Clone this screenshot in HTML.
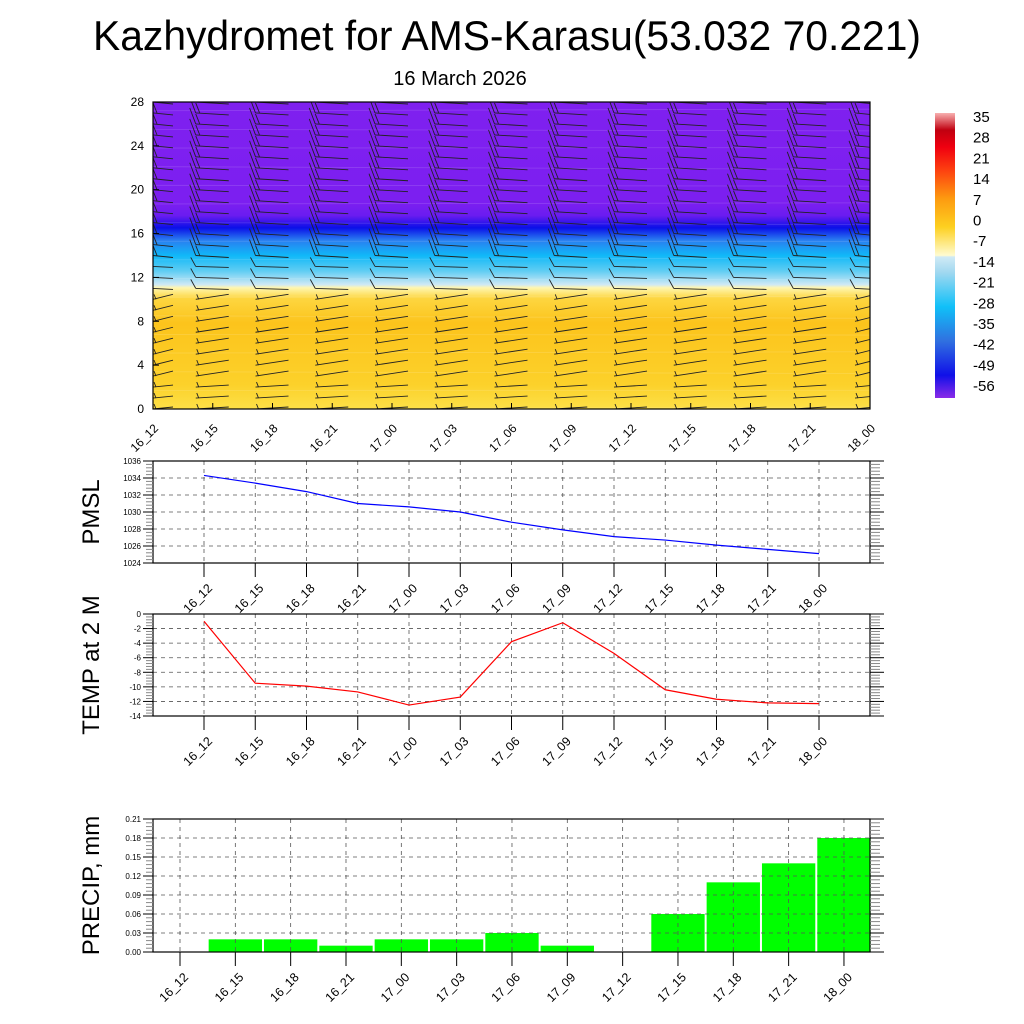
<!DOCTYPE html>
<html><head><meta charset="utf-8"><style>
body{margin:0;background:#fff}
svg{display:block;font-family:"Liberation Sans",sans-serif}
</style></head><body>
<svg id="chart" width="1024" height="1024" viewBox="0 0 1024 1024" xmlns="http://www.w3.org/2000/svg">
<defs>
<clipPath id="topclip"><rect x="153" y="102" width="717" height="307"/></clipPath>
<linearGradient id="tgrad" x1="0" y1="1" x2="0" y2="0">
<stop offset="0" stop-color="#fde047"/>
<stop offset="0.08" stop-color="#fcd12a"/>
<stop offset="0.28" stop-color="#fcc41c"/>
<stop offset="0.36" stop-color="#fdd640"/>
<stop offset="0.395" stop-color="#fff6b0"/>
<stop offset="0.405" stop-color="#cfe9f5"/>
<stop offset="0.45" stop-color="#5fcdf3"/>
<stop offset="0.50" stop-color="#10b8f8"/>
<stop offset="0.55" stop-color="#2a7ef0"/>
<stop offset="0.59" stop-color="#0a10e8"/>
<stop offset="0.63" stop-color="#6a1cf0"/>
<stop offset="0.67" stop-color="#7c1ff0"/>
<stop offset="1" stop-color="#7f20ef"/>
</linearGradient>
<linearGradient id="cgrad" x1="0" y1="1" x2="0" y2="0">
<stop offset="0" stop-color="#8a2be8"/>
<stop offset="0.08" stop-color="#1010e8"/>
<stop offset="0.2" stop-color="#3070e0"/>
<stop offset="0.32" stop-color="#10c0f8"/>
<stop offset="0.44" stop-color="#a0d8f0"/>
<stop offset="0.495" stop-color="#d0eaf5"/>
<stop offset="0.5" stop-color="#fffbd0"/>
<stop offset="0.6" stop-color="#fdd020"/>
<stop offset="0.7" stop-color="#fd9a10"/>
<stop offset="0.8" stop-color="#fd4010"/>
<stop offset="0.88" stop-color="#f00010"/>
<stop offset="0.94" stop-color="#c00010"/>
<stop offset="1" stop-color="#f8b0b0"/>
</linearGradient>
</defs>
<text x="507" y="50" font-size="42" text-anchor="middle" textLength="828" lengthAdjust="spacingAndGlyphs">Kazhydromet for AMS-Karasu(53.032 70.221)</text>
<text x="460" y="85" font-size="20" text-anchor="middle">16 March 2026</text>
<g id="top"></g>
<g id="cbar"></g>
<g id="pmsl"></g>
<g id="temp"></g>
<g id="prec"></g>
</svg>
<script>
const categories=["16_12","16_15","16_18","16_21","17_00","17_03","17_06","17_09","17_12","17_15","17_18","17_21","18_00"];
const pmslValues=[1034.3,1033.4,1032.4,1031.0,1030.6,1030.0,1028.8,1027.9,1027.1,1026.7,1026.1,1025.6,1025.1];
const tempValues=[-1.0,-9.5,-9.9,-10.7,-12.5,-11.4,-3.8,-1.2,-5.4,-10.4,-11.7,-12.2,-12.3];
const precipValues=[0,0.02,0.02,0.01,0.02,0.02,0.03,0.01,0,0.06,0.11,0.14,0.18];
const topTicks=[0,4,8,12,16,20,24,28];
const pmslTicks=[1024,1026,1028,1030,1032,1034,1036];
const tempTicks=[0,-2,-4,-6,-8,-10,-12,-14];
const precipTicks=[0,0.03,0.06,0.09,0.12,0.15,0.18,0.21];
const cbarLabels=["35","28","21","14","7","0","-7","-14","-21","-28","-35","-42","-49","-56"];

const NS="http://www.w3.org/2000/svg";
function mk(parent,tag,attrs,text){const e=document.createElementNS(NS,tag);for(const k in attrs)e.setAttribute(k,attrs[k]);if(text!==undefined)e.textContent=text;parent.appendChild(e);return e;}
function lin(d0,d1,r0,r1){return v=>r0+(v-d0)/(d1-d0)*(r1-r0);}

// ---------- Top cross-section ----------
(function(){
const g=document.getElementById('top');
const L=153,R=870,T=102,B=409;
const x=lin(0,12,L,R), y=lin(0,28,B,T);
let r=mk(g,'rect',{x:L,y:T,width:R-L,height:B-T,fill:'url(#tgrad)'});


const cg=mk(g,'g',{"clip-path":"url(#topclip)"});
for(let lv=0;lv<=28;lv+=1.7){const yy=y(lv);mk(cg,'line',{x1:L,x2:R,y1:yy,y2:yy+((lv*7)%5-2),stroke:'#fff',"stroke-opacity":0.15,"stroke-width":0.8});}
for(let i=0;i<categories.length;i++){
  const cx=x(i);
  for(let lv=0;lv<=28;lv++){
    const yy=y(lv);
    const b=mk(cg,'g',{stroke:'#222',"stroke-width":0.9,fill:'none'});
    
    
    let x0=cx-17,x1=cx+16;
    if(i===0){x0=L;x1=L+20;}
    if(i===12){x0=R-15;x1=R+5;}
    if(lv<=10){
      const dy = lv<=2?-2:-5;
      mk(b,'line',{x1:x0,y1:yy,x2:x1,y2:yy+dy});
      mk(b,'line',{x1:x0+3,y1:yy,x2:x0+1,y2:yy-5});
    }else if(lv<=13){
      mk(b,'line',{x1:x0,y1:yy,x2:x1,y2:yy+1});
      mk(b,'line',{x1:x0,y1:yy,x2:x0-5,y2:yy-9});
    }else{
      mk(b,'line',{x1:x0,y1:yy,x2:x1,y2:yy+2});
      mk(b,'line',{x1:x0,y1:yy,x2:x0-6,y2:yy-16});
      mk(b,'line',{x1:x0+4,y1:yy,x2:x0,y2:yy-10});
    }
  }
}
mk(g,'rect',{x:L,y:T,width:R-L,height:B-T,fill:'none',stroke:'#000',"stroke-width":1.2});
topTicks.forEach(v=>{const yy=y(v);
  mk(g,'line',{x1:L,x2:L+6,y1:yy,y2:yy,stroke:'#000'});
  const t=mk(g,'text',{x:L-9,y:yy+4,"font-size":12,"text-anchor":"end"},String(v));
  
  
});
categories.forEach((c,i)=>{const xx=x(i);
  mk(g,'line',{x1:xx,x2:xx,y1:B,y2:B-6,stroke:'#000'});
  const t=mk(g,'text',{x:xx+6,y:B+20,"font-size":12,"text-anchor":"end",transform:`rotate(-45 ${xx+6} ${B+20})`},c);
  
  
});
})();

// ---------- Colorbar ----------
(function(){
const g=document.getElementById('cbar');
const r=mk(g,'rect',{x:935,y:113,width:20,height:285,fill:'url(#cgrad)'});


cbarLabels.forEach((s,i)=>{
  const t=mk(g,'text',{x:973,y:122+i*20.7,"font-size":15},s);
  
  
});
})();

// ---------- line/bar panels ----------
function panel(id,T,B,ticks,dmin,dmax,fmt,title,fs,x0,dx,yfs){
  const g=document.getElementById(id);
  const L=153,R=870;
  const y=lin(dmin,dmax,B,T);
  const x=i=>x0+i*dx;
  ticks.forEach(v=>{const yy=y(v);if(yy>T+1&&yy<B-1)mk(g,'line',{x1:L,x2:R,y1:yy,y2:yy,stroke:'#555',"stroke-dasharray":"4 4","stroke-width":0.8});});
  categories.forEach((c,i)=>mk(g,'line',{x1:x(i),x2:x(i),y1:T,y2:B,stroke:'#555',"stroke-dasharray":"4 4","stroke-width":0.8}));
  mk(g,'rect',{x:L,y:T,width:R-L,height:B-T,fill:'none',stroke:'#000',"stroke-width":1.2});
  const step=(ticks[1]-ticks[0])/5;
  for(let k=0;k<=(ticks.length-1)*5;k++){const v=ticks[0]+k*step;const yy=y(v);const major=k%5===0;
    mk(g,'line',{x1:L-(major?10:7),x2:L,y1:yy,y2:yy,stroke:major?'#000':'#888'});
    mk(g,'line',{x1:R,x2:R+(major?14:10),y1:yy,y2:yy,stroke:major?'#000':'#888'});}
  ticks.forEach(v=>{const t=mk(g,'text',{x:L-12,y:y(v)+3,"font-size":yfs,"text-anchor":"end"},fmt(v));
    
    });
  categories.forEach((c,i)=>{const xx=x(i);
    mk(g,'line',{x1:xx,x2:xx,y1:B,y2:B+14,stroke:'#000'});
    const t=mk(g,'text',{x:xx+9,y:B+26,"font-size":12.5,"text-anchor":"end",transform:`rotate(-45 ${xx+9} ${B+26})`},c);
    
    });
  const yt=mk(g,'text',{x:0,y:0,"font-size":fs,"text-anchor":"middle",transform:`translate(99 ${(T+B)/2}) rotate(-90)`},title);
  
  
  return {g,x,y,L,R,T,B};
}
(function(){
  const p=panel('pmsl',461,563,pmslTicks,1024,1036,v=>String(v),'PMSL',24,204,51.25,8);
  const pts=pmslValues.map((v,i)=>p.x(i)+','+p.y(v)).join(' ');
  const l=mk(p.g,'polyline',{points:pts,fill:'none',stroke:'#0000ff',"stroke-width":1.2});
  
  
})();
(function(){
  const p=panel('temp',614,716,tempTicks,-14,0,v=>String(v),'TEMP at 2 M',24,204,51.25,8);
  const pts=tempValues.map((v,i)=>p.x(i)+','+p.y(v)).join(' ');
  const l=mk(p.g,'polyline',{points:pts,fill:'none',stroke:'#ff0000',"stroke-width":1.2});
  
  
})();
(function(){
  const g=document.getElementById('prec');
  const T=819,B=952,x0=180,dx=55.33;
  const y=lin(0,0.21,B,T);
  precipValues.forEach((v,i)=>{if(v<=0)return;const xx=x0+i*dx;
    const r=mk(g,'rect',{x:xx-dx/2+1,y:y(v),width:dx-2,height:B-y(v),fill:'#00ff00'});
    
    });
  panel('prec',T,B,precipTicks,0,0.21,v=>v.toFixed(2),'PRECIP, mm',24,x0,dx,8);
})();
</script>
</body></html>
